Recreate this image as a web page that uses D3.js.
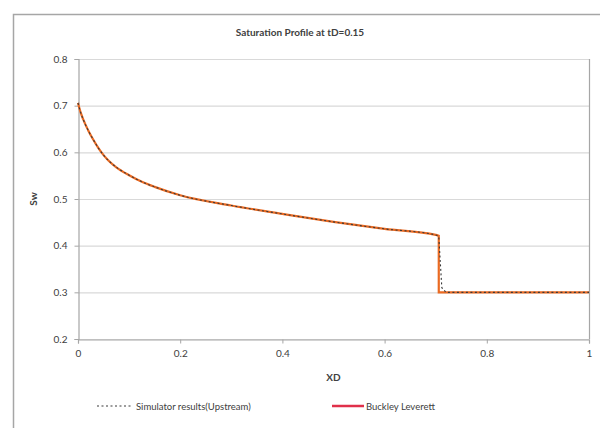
<!DOCTYPE html>
<html>
<head>
<meta charset="utf-8">
<script src="https://cdn.jsdelivr.net/npm/d3@7"></script>
<style>
  body { margin: 0; background: #fff; }
  svg text { font-family: Lato, "Open Sans", sans-serif; fill: #404040; }
</style>
</head>
<body>
<div id="chart"></div>
<script>
// Buckley Leverett analytic profile
var blX  = [0, 0.005, 0.01, 0.02, 0.03, 0.04, 0.05, 0.06, 0.075, 0.1, 0.125, 0.15, 0.2, 0.3, 0.4, 0.5, 0.6, 0.7, 0.706, 0.706, 1];
var blSw = [0.706, 0.686, 0.671, 0.647, 0.627, 0.609, 0.594, 0.582, 0.568, 0.551, 0.537, 0.526, 0.508, 0.486, 0.468, 0.451, 0.436, 0.423, 0.421, 0.3, 0.3];

// Simulator results (upstream weighting)
var simX  = [0, 0.005, 0.01, 0.02, 0.03, 0.04, 0.05, 0.06, 0.075, 0.1, 0.125, 0.15, 0.2, 0.3, 0.4, 0.5, 0.6, 0.7, 0.706, 0.712, 0.72, 1];
var simSw = [0.706, 0.686, 0.671, 0.647, 0.627, 0.609, 0.594, 0.582, 0.568, 0.551, 0.537, 0.526, 0.508, 0.486, 0.468, 0.451, 0.436, 0.423, 0.42, 0.31, 0.3, 0.3];

var xTicks = [0, 0.2, 0.4, 0.6, 0.8, 1];
var yTicks = [0.2, 0.3, 0.4, 0.5, 0.6, 0.7, 0.8];

var width = 600, height = 428;
var margin = {top: 59, right: 11, bottom: 89, left: 78};

var svg = d3.select("#chart").append("svg")
  .attr("width", width)
  .attr("height", height);

// chart frame
svg.append("rect")
  .attr("x", 13.5).attr("y", 14.5)
  .attr("width", 600).attr("height", 430)
  .attr("fill", "#fff")
  .attr("stroke", "#a6a6a6")
  .attr("stroke-width", 1.5);

var x = d3.scaleLinear().domain([0, 1]).range([margin.left, width - margin.right]);
var y = d3.scaleLinear().domain([0.2, 0.8]).range([height - margin.bottom, margin.top]);

// gridlines
svg.append("g")
  .selectAll("line")
  .data(yTicks)
  .enter().append("line")
    .attr("x1", x(0)).attr("x2", x(1))
    .attr("y1", d => y(d) + 0.5).attr("y2", d => y(d) + 0.5)
    .attr("stroke", "#d9d9d9")
    .attr("stroke-width", 1.2);

// right border of plot area
svg.append("line")
  .attr("x1", x(1) + 0.5).attr("x2", x(1) + 0.5)
  .attr("y1", y(0.8)).attr("y2", y(0.2))
  .attr("stroke", "#a6a6a6")
  .attr("stroke-width", 1.2);

var xAxis = svg.append("g")
  .attr("transform", `translate(0,${y(0.2) + 0.5})`)
  .call(d3.axisBottom(x).tickValues(xTicks).tickFormat(d3.format("")).tickSize(4).tickPadding(6));

var yAxis = svg.append("g")
  .attr("transform", `translate(${x(0) + 0.5},0)`)
  .call(d3.axisLeft(y).tickValues(yTicks).tickFormat(d3.format(".1f")).tickSize(4).tickPadding(7));

[xAxis, yAxis].forEach(function(g) {
  g.select(".domain").attr("stroke", "#a6a6a6").attr("stroke-width", 1.2);
  g.selectAll(".tick line").attr("stroke", "#a6a6a6");
  g.selectAll(".tick text")
    .attr("font-size", 10)
    .attr("font-family", "Lato, 'Open Sans', sans-serif")
    .attr("fill", "#595959");
});

// smooth part up to the shock front, straight segments after it
function profilePath(xs, ys, shockX) {
  var pts = d3.zip(xs, ys);
  var i = pts.findIndex(p => p[0] >= shockX);
  var smooth = d3.line().x(d => x(d[0])).y(d => y(d[1])).curve(d3.curveMonotoneX)(pts.slice(0, i + 1));
  var rest = d3.line().x(d => x(d[0])).y(d => y(d[1]))(pts.slice(i));
  return smooth + "L" + rest.slice(1);
}

svg.append("path")
  .attr("fill", "none")
  .attr("stroke", "#ea6a22")
  .attr("stroke-width", 2.2)
  .attr("d", profilePath(blX, blSw, 0.706));

svg.append("path")
  .attr("fill", "none")
  .attr("stroke", "#3a3a3a")
  .attr("stroke-width", 1.1)
  .attr("stroke-dasharray", "2,2.5")
  .attr("d", profilePath(simX, simSw, 0.706));

// title and axis labels
svg.append("text")
  .attr("x", 300).attr("y", 36)
  .attr("text-anchor", "middle")
  .attr("font-size", 10)
  .attr("font-weight", "bold")
  .text("Saturation Profile at tD=0.15");

svg.append("text")
  .attr("x", (x(0) + x(1)) / 2).attr("y", 381)
  .attr("text-anchor", "middle")
  .attr("font-size", 10)
  .attr("font-weight", "bold")
  .text("XD");

svg.append("text")
  .attr("transform", `translate(37,${y(0.5)}) rotate(-90)`)
  .attr("text-anchor", "middle")
  .attr("font-size", 10)
  .attr("font-weight", "bold")
  .text("Sw");

// legend
var legend = svg.append("g").attr("transform", "translate(0,406)");
legend.append("line")
  .attr("x1", 97).attr("x2", 133)
  .attr("stroke", "#3a3a3a").attr("stroke-width", 1.2)
  .attr("stroke-dasharray", "2,2.5");
legend.append("text")
  .attr("x", 136).attr("y", 3.5)
  .attr("font-size", 9.5)
  .text("Simulator results(Upstream)");
legend.append("line")
  .attr("x1", 332).attr("x2", 364)
  .attr("stroke", "#e0304a").attr("stroke-width", 2.5);
legend.append("text")
  .attr("x", 366).attr("y", 3.5)
  .attr("font-size", 9.5)
  .text("Buckley Leverett");
</script>
</body>
</html>
